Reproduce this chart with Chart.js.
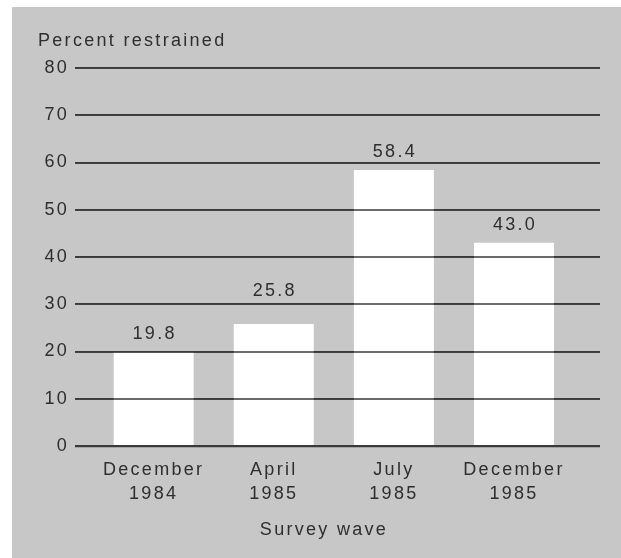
<!DOCTYPE html>
<html>
<head>
<meta charset="utf-8">
<script src="https://cdn.jsdelivr.net/npm/chart.js@4/dist/chart.umd.min.js"></script>
<style>
  html, body { margin: 0; padding: 0; background: #ffffff; }
  canvas { display: block; }
</style>
</head>
<body>
<canvas id="c" width="621" height="558"></canvas>
<script>
// ---- data ----
const categories = [['December', '1984'], ['April', '1985'], ['July', '1985'], ['December', '1985']];
const values = [19.8, 25.8, 58.4, 43.0];
const valueLabels = ['19.8', '25.8', '58.4', '43.0'];
const yTicks = [0, 10, 20, 30, 40, 50, 60, 70, 80];
const yAxisTitle = 'Percent restrained';
const xAxisTitle = 'Survey wave';

// ---- style ----
const TEXT = '#2e2e2e';
const GRID = '#3a3a3a';
const BG = '#c7c7c7';
const FONT = 'Liberation Sans, Arial, Helvetica, sans-serif';
const SPACING = '2.3px';

const spacingPlugin = {
  id: 'spacing',
  beforeUpdate(chart) { chart.ctx.letterSpacing = SPACING; },
  beforeDraw(chart) {
    const ctx = chart.ctx;
    ctx.save();
    ctx.fillStyle = '#ffffff';
    ctx.fillRect(0, 0, chart.width, chart.height);
    ctx.fillStyle = BG;
    ctx.fillRect(12, 7, chart.width - 12, chart.height - 7);
    ctx.restore();
    ctx.letterSpacing = SPACING;
  },
  afterDraw(chart) {
    const ctx = chart.ctx;
    const meta = chart.getDatasetMeta(0);
    const yScale = chart.scales.y;
    const area = chart.chartArea;
    ctx.save();
    // gridlines run across the bars in the original: redraw them on top
    ctx.strokeStyle = GRID;
    yTicks.forEach(t => {
      const gy = Math.round(yScale.getPixelForValue(t));
      ctx.lineWidth = t === 0 ? 2.2 : 1.7;
      ctx.beginPath();
      ctx.moveTo(area.left, gy);
      ctx.lineTo(area.right, gy);
      ctx.stroke();
    });
    ctx.letterSpacing = SPACING;
    ctx.font = '18px ' + FONT;
    ctx.fillStyle = TEXT;
    ctx.textAlign = 'center';
    ctx.textBaseline = 'middle';
    // value labels above bars, nudged up if they would sit on a gridline
    meta.data.forEach((bar, i) => {
      let y = bar.y - 18;
      yTicks.forEach(t => {
        const gy = yScale.getPixelForValue(t);
        if (Math.abs(y - gy) < 9) y = gy - 13;
      });
      ctx.fillText(valueLabels[i], bar.x + 1, y);
    });
    ctx.textAlign = 'left';
    ctx.fillText(yAxisTitle, 38, 41);
    ctx.textAlign = 'center';
    ctx.fillText(xAxisTitle, 324, 530);
    ctx.restore();
  }
};

Chart.defaults.font.family = FONT;
Chart.defaults.font.size = 18;
Chart.defaults.color = TEXT;

new Chart(document.getElementById('c'), {
  type: 'bar',
  data: {
    datasets: [{
      data: values.map((v, i) => ({ x: i, y: v })),
      backgroundColor: '#ffffff',
      borderWidth: 0,
      barPercentage: 0.666,
      categoryPercentage: 1
    }]
  },
  options: {
    responsive: false,
    animation: false,
    devicePixelRatio: 1,
    layout: { padding: { left: 0, top: 68, right: 21, bottom: 0 } },
    plugins: { legend: { display: false }, tooltip: { enabled: false }, title: { display: false } },
    scales: {
      x: {
        type: 'linear',
        offset: false,
        min: -0.655,
        max: 3.716,
        grid: { display: false, drawTicks: false, offset: false },
        border: { display: false },
        afterBuildTicks: s => { s.ticks = categories.map((c, i) => ({ value: i })); },
        afterFit: s => { s.height = 112; },
        ticks: {
          padding: 12,
          maxRotation: 0,
          autoSkip: false,
          font: { size: 18, lineHeight: 24 / 18 },
          callback: (v) => categories[Math.round(v)] || ''
        }
      },
      y: {
        min: 0,
        max: 80,
        afterBuildTicks: s => { s.ticks = yTicks.map(v => ({ value: v })); },
        afterFit: s => { s.width = 75; },
        border: { display: false },
        grid: {
          drawTicks: false,
          color: GRID,
          lineWidth: c => (c.tick && c.tick.value === 0 ? 2.2 : 1.7)
        },
        ticks: { padding: 6, font: { size: 18 } }
      }
    }
  },
  plugins: [spacingPlugin]
});
</script>
</body>
</html>
